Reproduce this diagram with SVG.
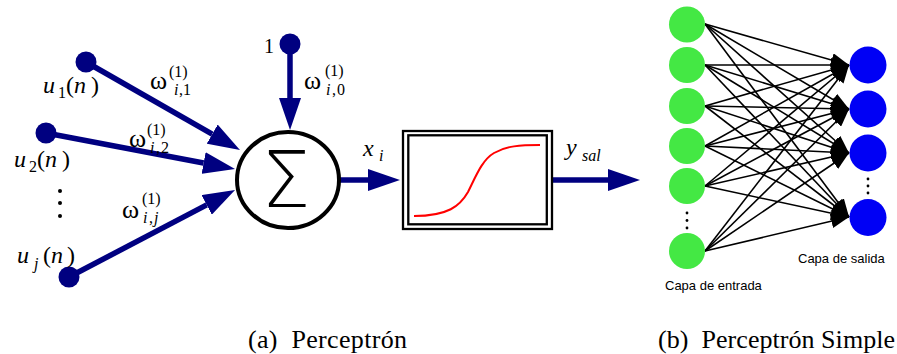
<svg xmlns="http://www.w3.org/2000/svg" width="897" height="354" viewBox="0 0 897 354">
<style>
.navy{fill:#000080}
.nl{stroke:#000080;stroke-width:5.5;fill:none}
.bl{stroke:#000;stroke-width:1.6;fill:none}
.m{font-family:"Liberation Serif","Times New Roman",serif;font-size:24px;fill:#000}
.w{font-size:26px}
.s{font-size:16px}
.it{font-style:italic}
.cap{font-family:"Liberation Serif","Times New Roman",serif;font-size:26px;fill:#000}
.lab{font-family:"Liberation Sans",Arial,sans-serif;font-size:13px;fill:#000}
.g{fill:#44E844}
.b{fill:#0000F5}
</style>
<defs>
<marker id="arrN" markerUnits="userSpaceOnUse" markerWidth="32" markerHeight="22" refX="0" refY="11" orient="auto">
<path d="M0,0 L32,11 L0,22 z" fill="#000080"/>
</marker>
<marker id="arrB" markerUnits="userSpaceOnUse" markerWidth="18" markerHeight="14" refX="18" refY="7" orient="auto">
<path d="M0,0 L18,7 L0,14 z" fill="#000"/>
</marker>
</defs>

<g id="connectors">
<line class="nl" x1="86" y1="62" x2="212.2" y2="134.1" marker-end="url(#arrN)"/>
<line class="nl" x1="46" y1="133" x2="203.6" y2="163" marker-end="url(#arrN)"/>
<line class="nl" x1="69" y1="277" x2="206.7" y2="204.9" marker-end="url(#arrN)"/>
<line class="nl" x1="290" y1="44" x2="290" y2="98" marker-end="url(#arrN)"/>
<line class="nl" x1="339" y1="180" x2="368" y2="180" marker-end="url(#arrN)"/>
<line class="nl" x1="552" y1="180" x2="608" y2="180" marker-end="url(#arrN)"/>
<g id="net-edges">
<line class="bl" x1="705" y1="24" x2="849" y2="65" marker-end="url(#arrB)"/>
<line class="bl" x1="705" y1="24" x2="849" y2="109" marker-end="url(#arrB)"/>
<line class="bl" x1="705" y1="24" x2="849" y2="153" marker-end="url(#arrB)"/>
<line class="bl" x1="705" y1="24" x2="849" y2="217" marker-end="url(#arrB)"/>
<line class="bl" x1="705" y1="65" x2="849" y2="65" marker-end="url(#arrB)"/>
<line class="bl" x1="705" y1="65" x2="849" y2="109" marker-end="url(#arrB)"/>
<line class="bl" x1="705" y1="65" x2="849" y2="153" marker-end="url(#arrB)"/>
<line class="bl" x1="705" y1="65" x2="849" y2="217" marker-end="url(#arrB)"/>
<line class="bl" x1="705" y1="106" x2="849" y2="65" marker-end="url(#arrB)"/>
<line class="bl" x1="705" y1="106" x2="849" y2="109" marker-end="url(#arrB)"/>
<line class="bl" x1="705" y1="106" x2="849" y2="153" marker-end="url(#arrB)"/>
<line class="bl" x1="705" y1="106" x2="849" y2="217" marker-end="url(#arrB)"/>
<line class="bl" x1="705" y1="146" x2="849" y2="65" marker-end="url(#arrB)"/>
<line class="bl" x1="705" y1="146" x2="849" y2="109" marker-end="url(#arrB)"/>
<line class="bl" x1="705" y1="146" x2="849" y2="153" marker-end="url(#arrB)"/>
<line class="bl" x1="705" y1="146" x2="849" y2="217" marker-end="url(#arrB)"/>
<line class="bl" x1="705" y1="186" x2="849" y2="65" marker-end="url(#arrB)"/>
<line class="bl" x1="705" y1="186" x2="849" y2="109" marker-end="url(#arrB)"/>
<line class="bl" x1="705" y1="186" x2="849" y2="153" marker-end="url(#arrB)"/>
<line class="bl" x1="705" y1="186" x2="849" y2="217" marker-end="url(#arrB)"/>
<line class="bl" x1="705" y1="251" x2="849" y2="65" marker-end="url(#arrB)"/>
<line class="bl" x1="705" y1="251" x2="849" y2="109" marker-end="url(#arrB)"/>
<line class="bl" x1="705" y1="251" x2="849" y2="153" marker-end="url(#arrB)"/>
<line class="bl" x1="705" y1="251" x2="849" y2="217" marker-end="url(#arrB)"/>
</g>
</g>

<g id="in-u1">
<circle class="navy" cx="86" cy="62" r="10.5"/>
<text class="m"><tspan class="it" x="43" y="93">u</tspan><tspan class="s" x="58" y="98">1</tspan><tspan x="66" y="93">(</tspan><tspan class="it" x="74" y="93">n</tspan><tspan x="91" y="93">)</tspan></text>
</g>
<g id="in-u2">
<circle class="navy" cx="46" cy="133" r="10.5"/>
<text class="m"><tspan class="it" x="14" y="167">u</tspan><tspan class="s" x="29" y="172">2</tspan><tspan x="37" y="167">(</tspan><tspan class="it" x="45" y="167">n</tspan><tspan x="62" y="167">)</tspan></text>
</g>
<g id="in-dots">
<circle cx="60" cy="191" r="2" fill="#000"/>
<circle cx="60" cy="203" r="2" fill="#000"/>
<circle cx="60" cy="216" r="2" fill="#000"/>
</g>
<g id="in-uj">
<circle class="navy" cx="69" cy="277" r="10.5"/>
<text class="m"><tspan class="it" x="17" y="263">u</tspan><tspan class="s it" x="34" y="269">j</tspan><tspan x="43" y="263">(</tspan><tspan class="it" x="51" y="263">n</tspan><tspan x="67" y="263">)</tspan></text>
</g>
<g id="bias">
<circle class="navy" cx="290" cy="44" r="10.5"/>
<text class="m" x="264" y="53" style="font-size:20px">1</text>
</g>

<g id="weights">
<text class="m"><tspan class="w" x="150" y="89">ω</tspan><tspan class="s" x="169" y="77">(1)</tspan><tspan class="s it" x="174" y="95">i</tspan><tspan class="s" x="179" y="95">,</tspan><tspan class="s" x="183" y="95">1</tspan></text>
<text class="m"><tspan class="w" x="129" y="147">ω</tspan><tspan class="s" x="147" y="135">(1)</tspan><tspan class="s it" x="150" y="153">i</tspan><tspan class="s" x="156" y="153">,</tspan><tspan class="s" x="161" y="153">2</tspan></text>
<text class="m"><tspan class="w" x="122" y="218">ω</tspan><tspan class="s" x="142" y="204">(1)</tspan><tspan class="s it" x="143" y="223">i</tspan><tspan class="s" x="149" y="223">,</tspan><tspan class="s it" x="154" y="223">j</tspan></text>
<text class="m"><tspan class="w" x="304" y="89">ω</tspan><tspan class="s" x="325" y="76">(1)</tspan><tspan class="s it" x="326" y="95">i</tspan><tspan class="s" x="332" y="95">,</tspan><tspan class="s" x="337" y="95">0</tspan></text>
</g>

<g id="sum">
<ellipse cx="288" cy="180" rx="51" ry="48" fill="#fff" stroke="#000" stroke-width="4"/>
<text x="286" y="207" text-anchor="middle" style="font-family:'DejaVu Sans','Liberation Sans',sans-serif;font-size:78px;font-weight:200">Σ</text>
</g>
<g id="lbl-x">
<text class="m"><tspan class="it" x="363" y="156">x</tspan><tspan class="s it" x="379" y="161">i</tspan></text>
</g>

<g id="activation">
<rect x="403" y="131" width="149" height="98" fill="#fff" stroke="#000" stroke-width="2.3"/>
<rect x="408.3" y="135.3" width="138.5" height="89" fill="none" stroke="#000" stroke-width="2.3"/>
<path d="M414,216 C448,216 460,206 468,192 C476,176 482,160 494,153 C506,146 520,145 540,145" fill="none" stroke="#f00" stroke-width="2"/>
</g>
<g id="lbl-y">
<text class="m"><tspan class="it" x="566" y="155">y</tspan><tspan class="s it" x="582" y="161">sal</tspan></text>
</g>

<g id="net-in1"><circle class="g" cx="687" cy="24.5" r="18"/></g>
<g id="net-in2"><circle class="g" cx="687" cy="65" r="18"/></g>
<g id="net-in3"><circle class="g" cx="687" cy="106" r="18"/></g>
<g id="net-in4"><circle class="g" cx="687" cy="146" r="18"/></g>
<g id="net-in5"><circle class="g" cx="687" cy="186" r="18"/></g>
<g id="net-in6"><circle class="g" cx="687" cy="251" r="18"/></g>
<g id="net-in-dots">
<circle cx="687" cy="213" r="1.4" fill="#000"/>
<circle cx="687" cy="220.5" r="1.4" fill="#000"/>
<circle cx="687" cy="228" r="1.4" fill="#000"/>
</g>
<g id="net-out1"><circle class="b" cx="868" cy="65" r="18.5"/></g>
<g id="net-out2"><circle class="b" cx="868" cy="109" r="18.5"/></g>
<g id="net-out3"><circle class="b" cx="868" cy="153" r="18.5"/></g>
<g id="net-out4"><circle class="b" cx="868" cy="217.5" r="18.5"/></g>
<g id="net-out-dots">
<circle cx="868" cy="179" r="1.4" fill="#000"/>
<circle cx="868" cy="186" r="1.4" fill="#000"/>
<circle cx="868" cy="193" r="1.4" fill="#000"/>
</g>
<text class="lab" x="798" y="263">Capa de salida</text>
<text class="lab" x="665" y="290">Capa de entrada</text>

<text class="cap" x="248" y="348" textLength="159" lengthAdjust="spacing" xml:space="preserve">(a)  Perceptrón</text>
<text class="cap" x="658" y="348" textLength="237" lengthAdjust="spacing" xml:space="preserve">(b)  Perceptrón Simple</text>
</svg>
